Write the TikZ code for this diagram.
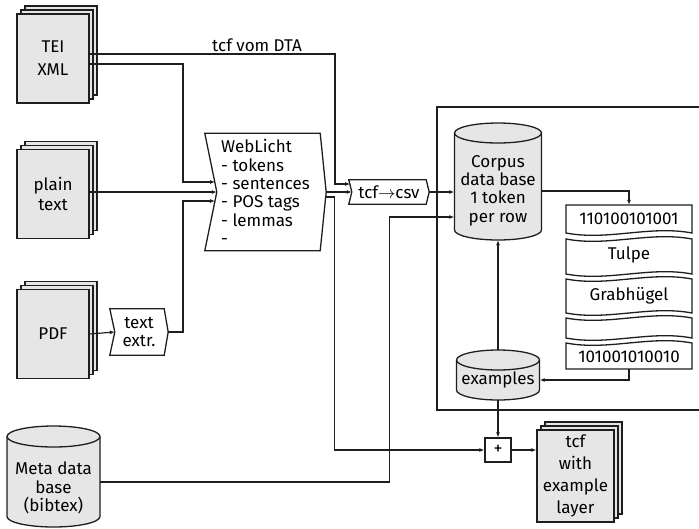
\documentclass[tikz,border=0pt]{standalone}
\usepackage{fontspec}
\setmainfont{Fira Sans}
\usetikzlibrary{arrows.meta,shadows,calc}
\definecolor{ink}{HTML}{1E1E1E}
\definecolor{paper}{HTML}{E6E6E6}
\tikzset{
  conn/.style={draw=ink, line width=1.15pt},
  arr/.style={conn, -{Latex[length=5pt,width=4pt]}},
  shp/.style={draw=ink, line width=1.3pt},
  box/.style={inner sep=0pt, align=center},
  txt/.style={inner sep=0pt, align=center},
  doc/.style={shp, fill=paper, inner sep=0pt, align=center, minimum width=72pt, minimum height=89pt,
     double copy shadow={shadow xshift=4pt, shadow yshift=4pt, draw=ink, line width=1.3pt, fill=paper, opacity=1}},
  tapeseg/.style={shp, fill=white},
}
\begin{document}
\begin{tikzpicture}[x=1pt,y=-1pt,font=\fontsize{17}{18.3}\selectfont]
\useasboundingbox (0,0) rectangle (699,528);

% frame around the corpus part (its right side lies outside the picture)
\draw[shp] (710,107) -- (437,107) -- (437,410) -- (710,410);

% documents
\node[doc, font=\fontsize{17}{23}\selectfont] (tei) at (53,58.5) {TEI\\XML};
\node[doc, font=\fontsize{17}{20}\selectfont] (plain) at (53,194) {plain\\text};
\node[doc] (pdf) at (53,334) {PDF};
\node[doc, minimum width=77pt, minimum height=92pt, font=\fontsize{17}{22}\selectfont] (tcfl) at (575.5,476) {tcf\\with\\example\\layer};

% WebLicht
\node[box, align=left, minimum width=121pt, minimum height=117pt] (wl) at (265.5,192)
  {WebLicht\\- tokens\\- sentences\\- POS tags\\- lemmas\\-};
\draw[shp] (wl.north west) -- ($(wl.north east)+(-6,0)$) -- (wl.east) -- ($(wl.south east)+(-6,0)$)
  -- (wl.south west) -- ($(wl.west)+(12,0)$) -- cycle;
\coordinate (wlin1) at (215,182);
\coordinate (wlin2) at ($(wl.west)+(12,0)$);
\coordinate (wlin3) at (215,201);
\coordinate (wlout2) at (325.4,197);

% tcf -> csv
\node[box, minimum width=80pt, minimum height=24pt] (tc) at (389,192) {tcf$\rightarrow$csv};
\draw[shp] (tc.north west) -- ($(tc.north east)+(-3,0)$) -- (tc.east) -- ($(tc.south east)+(-3,0)$)
  -- (tc.south west) -- ($(tc.west)+(3,0)$) -- cycle;
\coordinate (tcin1) at (350.1,184);
\coordinate (tcin2) at ($(tc.west)+(3,0)$);

% text extraction
\node[box, minimum width=58pt, minimum height=46pt] (tx) at (139,332) {text\\extr.};
\draw[shp] (tx.north west) -- ($(tx.north east)+(-4,0)$) -- (tx.east) -- ($(tx.south east)+(-4,0)$)
  -- (tx.south west) -- ($(tx.west)+(5,0)$) -- cycle;
\coordinate (txin) at ($(tx.west)+(5,0)$);

% corpus data base cylinder
\node[inner sep=0pt, minimum width=87pt, minimum height=117pt] (corpus) at (498,181.5) {};
\path[shp, fill=paper] (454.5,133) -- (454.5,230) arc[start angle=180,end angle=360,x radius=43.5pt,y radius=10pt]
  -- (541.5,133) arc[start angle=0,end angle=180,x radius=43.5pt,y radius=10pt] -- cycle;
\draw[shp] (454.5,133) arc[start angle=180,end angle=360,x radius=43.5pt,y radius=10pt];
\node[txt] (corpustxt) at (498,190.5) {Corpus\\data base\\1 token\\per row};

% examples cylinder
\node[inner sep=0pt, minimum width=83pt, minimum height=50pt] (exm) at (498,375) {};
\path[shp, fill=paper] (456.5,360) -- (456.5,390) arc[start angle=180,end angle=360,x radius=41.5pt,y radius=10pt]
  -- (539.5,360) arc[start angle=0,end angle=180,x radius=41.5pt,y radius=10pt] -- cycle;
\draw[shp] (456.5,360) arc[start angle=180,end angle=360,x radius=41.5pt,y radius=10pt];
\node[txt] (exmtxt) at (498,380) {examples};

% meta data base cylinder
\node[inner sep=0pt, minimum width=93pt, minimum height=101pt] (meta) at (53.5,476.5) {};
\path[shp, fill=paper] (7,436.5) -- (7,516.5) arc[start angle=180,end angle=360,x radius=46.5pt,y radius=10.5pt]
  -- (100,436.5) arc[start angle=0,end angle=180,x radius=46.5pt,y radius=10.5pt] -- cycle;
\draw[shp] (7,436.5) arc[start angle=180,end angle=360,x radius=46.5pt,y radius=10.5pt];
\node[txt, font=\fontsize{17}{18.5}\selectfont] (metatxt) at (53.5,488) {Meta data\\base\\(bibtex)};

% tape stack
\node[inner sep=0pt, minimum width=126pt, minimum height=164pt] (tape) at (629,287) {};
\path[tapeseg] (566,205) -- (692,205) -- (692,233) .. controls (650,225) and (608,241) .. (566,233) -- cycle;
\path[tapeseg] (566,239) .. controls (608,247) and (650,231) .. (692,239) -- (692,274)
  .. controls (650,266) and (608,282) .. (566,274) -- cycle;
\path[tapeseg] (566,279) .. controls (608,287) and (650,271) .. (692,279) -- (692,313)
  .. controls (650,305) and (608,321) .. (566,313) -- cycle;
\path[tapeseg] (566,318) .. controls (608,326) and (650,310) .. (692,318) -- (692,338)
  .. controls (650,330) and (608,346) .. (566,338) -- cycle;
\path[tapeseg] (566,343) .. controls (608,351) and (650,335) .. (692,343) -- (692,369) -- (566,369) -- cycle;
\node[txt] (t1) at (629,219) {110100101001};
\node[txt] (t2) at (629,255) {Tulpe};
\node[txt] (t3) at (629,296) {Grabhügel};
\node[txt] (t5) at (629,357) {101001010010};

% plus
\node[shp, fill=white, minimum width=26pt, minimum height=24pt, inner sep=0pt, font=\fontsize{18}{18}\selectfont] (plus) at (498,450) {+};

% label
\node[txt, anchor=base] (dta) at (257,51) {tcf vom DTA};

% connectors
\draw[arr] ($(tei.east)+(0,-4.5)$) -| ($(tcin1)+(-15.1,0)$) -- (tcin1);
\draw[arr] ($(tei.east)+(0,5.5)$) -| ($(wlin1)+(-32,0)$) -- (wlin1);
\draw[arr] (plain.east |- wlin2) -- (wlin2);
\draw[arr] (tx.east) -| ($(wlin3)+(-32,0)$) -- (wlin3);
\draw[arr] (pdf.east) -- (txin);
\draw[arr] (wl.east) -- (tcin2);
\draw[arr] (wlout2) -| ($(plus.west)+(-150,0)$) -- (plus.west);
\draw[arr] (tc.east) -- (corpus.west |- tc.east);
\draw[arr] ($(meta.east)+(0,5.5)$) -| ($(corpus.west)+(-65,35.5)$) -- ($(corpus.west)+(0,35.5)$);
\draw[arr] ($(corpus.east)+(0,9.5)$) -| (tape.north);
\draw[arr] (tape.south) |- ($(exm.east)+(0,5)$);
\draw[arr] (exm.north) -- (corpus.south);
\draw[arr] (exm.south) -- (plus.north);
\draw[arr] (plus.east) -- (plus.east -| tcfl.west);
\end{tikzpicture}
\end{document}
